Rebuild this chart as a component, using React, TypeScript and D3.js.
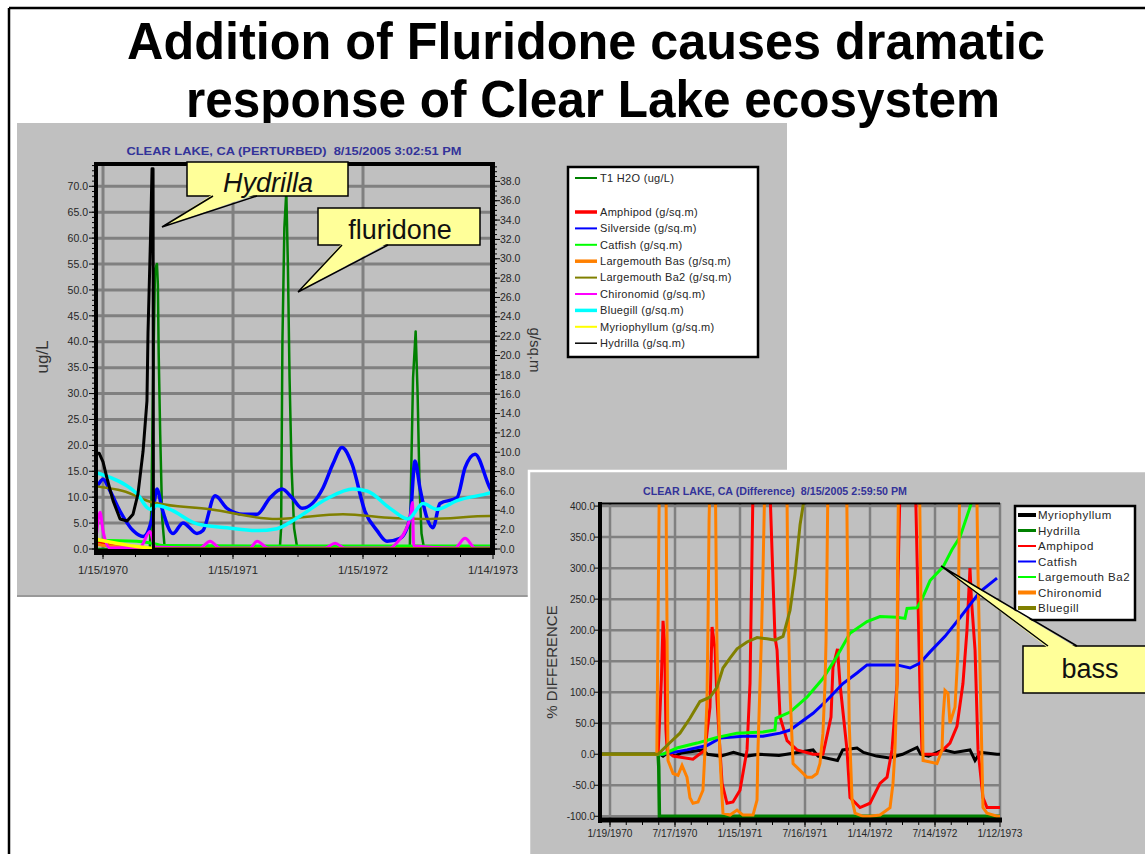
import * as d3 from 'd3';

type Pt = [number, number]; // [decimal year, value]

// ---------- upper chart: CLEAR LAKE (PERTURBED) ----------
const perturbedTicks = [1970.04, 1971.04, 1972.04, 1973.04];
const perturbedTickLabels = ['1/15/1970', '1/15/1971', '1/15/1972', '1/14/1973'];
const ugTicks = [0, 5, 10, 15, 20, 25, 30, 35, 40, 45, 50, 55, 60, 65, 70];
const gsqmTicks = [0, 2, 4, 6, 8, 10, 12, 14, 16, 18, 20, 22, 24, 26, 28, 30, 32, 34, 36, 38];

const t1H2O: Pt[] = [
  [1969.986, 0], [1970.4, 0], [1970.412, 8], [1970.425, 32], [1970.44, 54], [1970.455, 55],
  [1970.462, 51], [1970.468, 38], [1970.48, 22], [1970.495, 6], [1970.515, 0],
  [1971.4, 0], [1971.41, 4], [1971.42, 40], [1971.435, 62], [1971.45, 69], [1971.462, 55],
  [1971.475, 33], [1971.49, 16], [1971.51, 4], [1971.535, 0],
  [1972.4, 0], [1972.41, 14], [1972.425, 33], [1972.445, 42], [1972.46, 30], [1972.475, 12],
  [1972.49, 3], [1972.51, 0], [1973.04, 0],
];
const amphipodP: Pt[] = [[1969.986, 0.9], [1970.05, 0.6], [1970.15, 0.25], [1970.3, 0.05], [1970.45, 0], [1973.04, 0]];
const silversideP: Pt[] = [
  [1969.986, 6.4], [1969.994, 6.5], [1970.04, 7.2], [1970.094, 6.0], [1970.171, 3.9], [1970.271, 1.9],
  [1970.348, 1.3], [1970.417, 3.2], [1970.455, 6.2], [1970.494, 4.2], [1970.578, 1.6], [1970.655, 2.7],
  [1970.763, 1.6], [1970.809, 1.9], [1970.902, 5.5], [1970.994, 4.2], [1971.117, 3.6], [1971.225, 3.6],
  [1971.325, 5.3], [1971.417, 6.2], [1971.494, 5.3], [1971.571, 4.2], [1971.732, 6.3], [1971.809, 8.8],
  [1971.878, 10.5], [1971.955, 8.8], [1972.055, 3.9], [1972.148, 1.9], [1972.225, 0.8], [1972.325, 1.1],
  [1972.402, 3.2], [1972.44, 9.1], [1972.478, 6.3], [1972.532, 3.2], [1972.578, 2.2], [1972.632, 4.7],
  [1972.763, 5.3], [1972.825, 8.4], [1972.902, 9.8], [1973.017, 6.3], [1973.04, 5.8],
];
const catfishP: Pt[] = [[1969.986, 0.9], [1970.3, 0.8], [1970.42, 0.6], [1970.5, 0.35], [1971.5, 0.3], [1973.04, 0.3]];
const bassP: Pt[] = [[1969.986, 0.5], [1970.1, 0.3], [1970.3, 0.1], [1970.5, 0], [1973.04, 0]];
const bass2P: Pt[] = [
  [1969.986, 6.5], [1970.194, 6.0], [1970.425, 4.8], [1970.863, 4.1], [1971.378, 3.1], [1971.886, 3.6],
  [1972.271, 3.2], [1972.555, 3.1], [1973.017, 3.4], [1973.04, 3.4],
];
const chironomidP: Pt[] = [
  [1969.986, 1.0], [1970.017, 3.8], [1970.04, 1.9], [1970.094, 0.1], [1970.325, 0.2], [1970.402, 1.8],
  [1970.44, 0.2], [1970.786, 0.1], [1970.863, 0.8], [1970.94, 0.1], [1971.17, 0.1], [1971.225, 0.8],
  [1971.31, 0.1], [1971.748, 0.1], [1971.825, 0.6], [1971.9, 0.1], [1972.248, 0.1], [1972.31, 0.8],
  [1972.37, 2.0], [1972.41, 3.8], [1972.42, 4.8], [1972.43, 0.3], [1972.748, 0.1], [1972.825, 1.1],
  [1972.902, 0.1], [1973.04, 0.1],
];
const bluegillP: Pt[] = [
  [1969.986, 7.9], [1970.094, 7.4], [1970.302, 5.7], [1970.402, 4.1], [1970.455, 4.5], [1970.555, 4.1],
  [1970.763, 2.6], [1970.994, 2.2], [1971.225, 1.9], [1971.378, 2.1], [1971.532, 3.2], [1971.763, 5.2],
  [1971.963, 6.2], [1972.071, 6.0], [1972.248, 4.2], [1972.386, 3.1], [1972.502, 4.7], [1972.609, 4.1],
  [1972.763, 5.0], [1973.017, 5.8], [1973.04, 5.9],
];
const myriophyllumP: Pt[] = [[1969.986, 1.0], [1970.1, 0.7], [1970.25, 0.35], [1970.42, 0.05], [1970.44, 0], [1973.04, 0]];
const hydrillaP: Pt[] = [
  [1969.986, 9.9], [1970.01, 9.9], [1970.04, 9.0], [1970.071, 7.3], [1970.117, 5.0], [1970.171, 3.1],
  [1970.225, 2.9], [1970.271, 3.6], [1970.309, 5.7], [1970.348, 10.1], [1970.378, 15.3], [1970.386, 22.3],
  [1970.405, 32], [1970.417, 39.3], [1970.425, 39.3], [1970.428, 0], [1973.04, 0],
];

// ---------- lower chart: CLEAR LAKE (Difference) ----------
const diffTicks = [1970.05, 1970.55, 1971.05, 1971.55, 1972.05, 1972.55, 1973.05];
const diffTickLabels = ['1/19/1970', '7/17/1970', '1/15/1971', '7/16/1971', '1/14/1972', '7/14/1972', '1/12/1973'];
const pctTicks = [-100, -50, 0, 50, 100, 150, 200, 250, 300, 350, 400];

const myriophyllumD: Pt[] = [
  [1969.973, 0], [1970.435, 0], [1970.458, -3], [1970.5, 3], [1970.55, -3], [1970.6, 2], [1970.765, 7],
  [1970.8, 0], [1970.9, -3], [1971.0, 3], [1971.1, -3], [1971.2, 0], [1971.35, -2], [1971.612, 7],
  [1971.65, -3], [1971.8, -10], [1971.84, 7], [1971.95, 10], [1972.0, 3], [1972.1, -3], [1972.2, -6],
  [1972.3, 0], [1972.412, 11], [1972.44, 0], [1972.5, -3], [1972.612, 7], [1972.7, 3], [1972.819, 7],
  [1972.858, -10], [1972.9, 3], [1973.027, 0], [1973.05, 0],
];
const hydrillaD: Pt[] = [[1969.973, 0], [1970.42, 0], [1970.425, -20], [1970.43, -100], [1973.05, -100]];
const amphipodD: Pt[] = [
  [1969.973, 0], [1970.42, 0], [1970.445, 120], [1970.458, 215], [1970.47, 180], [1970.48, 40], [1970.49, 5],
  [1970.535, -3], [1970.688, -8], [1970.781, 7], [1970.819, 76], [1970.835, 205], [1970.858, 170],
  [1970.873, 87], [1970.895, 10], [1970.912, -47], [1970.95, -79], [1970.996, -77], [1971.05, -58],
  [1971.104, 7], [1971.127, 114], [1971.142, 320], [1971.15, 430], [1971.28, 430], [1971.304, 280],
  [1971.319, 189], [1971.335, 168], [1971.358, 60], [1971.412, 22], [1971.488, 7], [1971.612, 0],
  [1971.688, 0], [1971.75, 60], [1971.765, 140], [1971.8, 170], [1971.819, 114], [1971.873, 7],
  [1971.896, -70], [1971.973, -86], [1972.05, -79], [1972.127, -47], [1972.181, -37], [1972.219, 7],
  [1972.258, 114], [1972.265, 280], [1972.281, 430], [1972.4, 430], [1972.419, 250], [1972.435, 100],
  [1972.45, 5], [1972.458, 0], [1972.565, 0], [1972.612, 7], [1972.665, 18], [1972.719, 45],
  [1972.765, 114], [1972.796, 200], [1972.819, 300], [1972.83, 250], [1972.858, 168], [1972.881, 7],
  [1972.919, -70], [1972.95, -86], [1973.05, -86],
];
const catfishD: Pt[] = [
  [1969.973, 0], [1970.458, 0], [1970.642, 7], [1970.796, 14], [1970.896, 26], [1971.073, 29],
  [1971.227, 29], [1971.358, 34], [1971.435, 39], [1971.488, 47], [1971.612, 66], [1971.719, 87],
  [1971.842, 114], [1971.95, 131], [1972.027, 144], [1972.258, 144], [1972.358, 139], [1972.435, 147],
  [1972.512, 165], [1972.627, 190], [1972.742, 220], [1972.896, 262], [1973.027, 284],
];
const bass2D: Pt[] = [
  [1969.973, 0], [1970.458, 0], [1970.565, 10], [1970.719, 18], [1970.873, 27], [1971.027, 34],
  [1971.227, 36], [1971.319, 39], [1971.327, 58], [1971.435, 68], [1971.565, 92], [1971.688, 122],
  [1971.796, 158], [1971.896, 195], [1972.027, 214], [1972.127, 222], [1972.258, 221], [1972.319, 219],
  [1972.335, 235], [1972.412, 236], [1972.45, 250], [1972.512, 280], [1972.612, 302], [1972.681, 330],
  [1972.742, 350], [1972.819, 398], [1972.835, 410],
];
const chironomidD: Pt[] = [
  [1969.973, 0], [1970.41, 0], [1970.43, 450], [1970.48, 450], [1970.496, -10], [1970.535, -31],
  [1970.573, -34], [1970.604, -18], [1970.642, -37], [1970.665, -70], [1970.688, -79], [1970.727, -77],
  [1970.765, -58], [1970.781, 7], [1970.796, 87], [1970.804, 211], [1970.812, 377], [1970.82, 450],
  [1970.86, 450], [1970.873, 168], [1970.895, 0], [1970.912, -70], [1970.919, -95], [1970.973, -98],
  [1971.027, -90], [1971.073, -98], [1971.15, -98], [1971.181, -74], [1971.188, 7], [1971.204, 114],
  [1971.215, 189], [1971.227, 297], [1971.242, 450], [1971.41, 450], [1971.419, 250], [1971.435, 100],
  [1971.458, -15], [1971.512, -26], [1971.565, -37], [1971.604, -37], [1971.642, -31], [1971.665, -15],
  [1971.688, 34], [1971.704, 114], [1971.712, 184], [1971.719, 297], [1971.727, 450], [1971.87, 450],
  [1971.881, 200], [1971.89, 50], [1971.912, -74], [1971.935, -95], [1971.996, -100], [1972.05, -100],
  [1972.127, -98], [1972.204, -86], [1972.227, -47], [1972.242, 7], [1972.258, 114], [1972.262, 297],
  [1972.27, 450], [1972.43, 450], [1972.445, 200], [1972.458, -10], [1972.565, -15], [1972.604, 7],
  [1972.612, 60], [1972.627, 103], [1972.65, 98], [1972.665, 50], [1972.704, 76], [1972.719, 135],
  [1972.727, 168], [1972.74, 450], [1972.87, 450], [1972.88, 300], [1972.919, -86], [1972.95, -95],
  [1973.027, -100], [1973.05, -100],
];
const bluegillD: Pt[] = [
  [1969.973, 0], [1970.419, 0], [1970.512, 19], [1970.588, 34], [1970.665, 58], [1970.742, 85],
  [1970.819, 92], [1970.873, 108], [1970.919, 139], [1970.973, 155], [1971.027, 170], [1971.104, 181],
  [1971.181, 188], [1971.258, 186], [1971.319, 184], [1971.381, 190], [1971.435, 232], [1971.473, 290],
  [1971.512, 370], [1971.542, 410],
];

const perturbedSeries = [
  { name: 'T1 H2O (ug/L)', data: t1H2O, ug: true },
  { name: 'Amphipod (g/sq.m)', data: amphipodP, ug: false },
  { name: 'Silverside (g/sq.m)', data: silversideP, ug: false },
  { name: 'Catfish (g/sq.m)', data: catfishP, ug: false },
  { name: 'Largemouth Bas (g/sq.m)', data: bassP, ug: false },
  { name: 'Largemouth Ba2 (g/sq.m)', data: bass2P, ug: false },
  { name: 'Chironomid (g/sq.m)', data: chironomidP, ug: false },
  { name: 'Bluegill (g/sq.m)', data: bluegillP, ug: false },
  { name: 'Myriophyllum (g/sq.m)', data: myriophyllumP, ug: false },
  { name: 'Hydrilla (g/sq.m)', data: hydrillaP, ug: false },
];
const diffSeries = [
  { name: 'Myriophyllum', data: myriophyllumD },
  { name: 'Hydrilla', data: hydrillaD },
  { name: 'Amphipod', data: amphipodD },
  { name: 'Catfish', data: catfishD },
  { name: 'Largemouth Ba2', data: bass2D },
  { name: 'Chironomid', data: chironomidD },
  { name: 'Bluegill', data: bluegillD },
];

// styles (kept apart from the data)
const pStyle = [
  { color: '#008000', w: 2.5, key: 2, smooth: false },
  { color: '#ff0000', w: 3, key: 3.5, smooth: true },
  { color: '#0000ff', w: 3.5, key: 2, smooth: true },
  { color: '#00ff00', w: 3, key: 2, smooth: true },
  { color: '#ff8000', w: 3, key: 3.5, smooth: true },
  { color: '#808000', w: 2.5, key: 2, smooth: true },
  { color: '#ff00ff', w: 3, key: 2, smooth: true },
  { color: '#00ffff', w: 3.5, key: 3.5, smooth: true },
  { color: '#ffff00', w: 3.5, key: 2, smooth: false },
  { color: '#000000', w: 3, key: 1.5, smooth: false },
];
const dStyle = [
  { color: '#000000', w: 3, key: 4 },
  { color: '#008000', w: 3.5, key: 3 },
  { color: '#ff0000', w: 3, key: 2 },
  { color: '#0000ff', w: 3, key: 2 },
  { color: '#00ff00', w: 3, key: 2 },
  { color: '#ff8000', w: 3, key: 4 },
  { color: '#808000', w: 3, key: 4 },
];

const FONT = "'Liberation Sans', Arial, Helvetica, sans-serif";
const GRID = '#808080';
const PANEL = '#c0c0c0';
const NOTE = '#ffff99';
const INK = '#262626';

type CalloutProps = {
  x: number; y: number; w: number; h: number;
  tip: [number, number]; b1: number; b2: number; top: boolean;
  text: string; tx: number; ty: number; italic?: boolean;
};

const Callout = ({ x, y, w, h, tip, b1, b2, top, text, tx, ty, italic }: CalloutProps) => {
  const by = top ? y : y + h;
  const inner = top ? by + 2 : by - 2;
  return (
    <g>
      <rect x={x} y={y} width={w} height={h} fill={NOTE} stroke="#000" strokeWidth={1.5} />
      <polygon points={`${tip[0]},${tip[1]} ${b1},${inner} ${b2},${inner}`} fill={NOTE} />
      <polyline points={`${b1},${by} ${tip[0]},${tip[1]} ${b2},${by}`} fill="none" stroke="#000" strokeWidth={1.5} />
      <text x={tx} y={ty} textAnchor="middle" fontSize={27} fontStyle={italic ? 'italic' : 'normal'} fill="#111" fontFamily={FONT}>
        {text}
      </text>
    </g>
  );
};

export default function App() {
  // upper chart scales
  const xP = d3.scaleLinear().domain([1969.986, 1973.04]).range([96, 493]);
  const yUg = d3.scaleLinear().domain([0, 74.5]).range([549, 163]);
  const yG = d3.scaleLinear().domain([0, 39.9]).range([549, 163]);
  // lower chart scales
  const xD = d3.scaleLinear().domain([1969.973, 1973.05]).range([600, 1000]);
  const yD = d3.scaleLinear().domain([-106, 405]).range([820, 503]);

  const pathP = (data: Pt[], ug: boolean, smooth: boolean) =>
    d3.line<Pt>()
      .x((d) => xP(d[0]))
      .y((d) => (ug ? yUg(d[1]) : yG(d[1])))
      .curve(smooth ? d3.curveMonotoneX : d3.curveLinear)(data) ?? '';
  const pathD = d3.line<Pt>().x((d) => xD(d[0])).y((d) => yD(d[1]));

  const ugMinor = d3.range(0, 74.5, 1);
  const gMinor = d3.range(0, 39.9, 0.5);
  const pMinorX = d3.range(1970.04, 1973.04, 0.25);
  const dMinorX = d3.range(1970.05, 1973.05, 0.125);

  return (
    <svg width={1145} height={854} style={{ position: 'absolute', left: 0, top: 0, background: '#fff' }} fontFamily={FONT}>
      <defs>
        <clipPath id="clipP"><rect x={96} y={163} width={397} height={387} /></clipPath>
        <clipPath id="clipD"><rect x={600} y={503} width={400} height={316} /></clipPath>
      </defs>
      <rect x={0} y={0} width={1145} height={854} fill="#fff" />
      {/* slide frame */}
      <line x1={9} y1={8} x2={1145} y2={8} stroke="#000" strokeWidth={2.5} />
      <line x1={9} y1={8} x2={9} y2={854} stroke="#000" strokeWidth={2.5} />

      <text x={586} y={59} textAnchor="middle" fontSize={52} fontWeight="bold" textLength={918} lengthAdjust="spacingAndGlyphs">
        Addition of Fluridone causes dramatic
      </text>
      <text x={593} y={117} textAnchor="middle" fontSize={52} fontWeight="bold" textLength={814} lengthAdjust="spacingAndGlyphs">
        response of Clear Lake ecosystem
      </text>

      {/* ===== upper panel ===== */}
      <rect x={17} y={123} width={770} height={473} fill={PANEL} />
      <line x1={17} y1={596} x2={787} y2={596} stroke="#999" strokeWidth={2} />
      <text x={294} y={155} textAnchor="middle" fontSize={10} fontWeight="bold" fill="#333399" textLength={335}
        lengthAdjust="spacingAndGlyphs" style={{ whiteSpace: 'pre' }}>
        {'CLEAR LAKE, CA (PERTURBED)  8/15/2005 3:02:51 PM'}
      </text>

      {ugTicks.filter((v) => v > 0).map((v) => (
        <line key={`gh${v}`} x1={96} x2={493} y1={yUg(v)} y2={yUg(v)} stroke={GRID} strokeWidth={3} />
      ))}
      {perturbedTicks.slice(0, 3).map((t) => (
        <line key={`gv${t}`} x1={xP(t)} x2={xP(t)} y1={163} y2={550} stroke={GRID} strokeWidth={3} />
      ))}

      <g clipPath="url(#clipP)">
        {perturbedSeries.map((s, i) => (
          <path key={s.name} d={pathP(s.data, s.ug, pStyle[i].smooth)} fill="none" stroke={pStyle[i].color}
            strokeWidth={pStyle[i].w} strokeLinejoin="round" />
        ))}
      </g>

      {/* frame */}
      <line x1={94} x2={495} y1={164} y2={164} stroke="#000" strokeWidth={4} />
      <line x1={96} x2={96} y1={162} y2={555} stroke="#000" strokeWidth={4} />
      <line x1={492.5} x2={492.5} y1={162} y2={555} stroke="#000" strokeWidth={5} />
      <line x1={94} x2={495} y1={552} y2={552} stroke="#000" strokeWidth={6} />

      {/* left axis */}
      {ugMinor.map((v) => <line key={`um${v}`} x1={92} x2={96} y1={yUg(v)} y2={yUg(v)} stroke="#000" strokeWidth={1} />)}
      {ugTicks.map((v) => (
        <g key={`ut${v}`}>
          <line x1={89} x2={96} y1={yUg(v)} y2={yUg(v)} stroke="#000" strokeWidth={1} />
          <text x={88} y={yUg(v)} dy="0.35em" textAnchor="end" fontSize={10.5} fill={INK}>{v.toFixed(1)}</text>
        </g>
      ))}
      <text transform="translate(48,357) rotate(-90)" textAnchor="middle" fontSize={17} fill="#333">ug/L</text>

      {/* right axis */}
      {gMinor.map((v) => <line key={`gm${v}`} x1={493} x2={497} y1={yG(v)} y2={yG(v)} stroke="#000" strokeWidth={1} />)}
      {gsqmTicks.map((v) => (
        <g key={`gt${v}`}>
          <line x1={493} x2={500} y1={yG(v)} y2={yG(v)} stroke="#000" strokeWidth={1} />
          <text x={500} y={yG(v)} dy="0.35em" fontSize={10.5} fill={INK}>{v.toFixed(1)}</text>
        </g>
      ))}
      <text transform="translate(530,350) rotate(90)" textAnchor="middle" fontSize={15} fill="#333">g/sq.m</text>

      {/* x axis */}
      {pMinorX.map((t) => <line key={`pm${t}`} x1={xP(t)} x2={xP(t)} y1={552} y2={557} stroke="#000" strokeWidth={1} />)}
      {perturbedTicks.map((t, i) => (
        <g key={`pt${t}`}>
          <line x1={xP(t)} x2={xP(t)} y1={552} y2={559} stroke="#000" strokeWidth={1} />
          <text x={xP(t)} y={574} textAnchor="middle" fontSize={10.5} fill={INK} textLength={50}
            lengthAdjust="spacingAndGlyphs">{perturbedTickLabels[i]}</text>
        </g>
      ))}

      {/* upper legend */}
      <rect x={568} y={167} width={190} height={190} fill="#fff" stroke="#000" strokeWidth={2.5} />
      {perturbedSeries.map((s, i) => {
        const y = i === 0 ? 178 : 212 + (i - 1) * 16.4;
        return (
          <g key={`lg${s.name}`}>
            <line x1={575} x2={597} y1={y} y2={y} stroke={pStyle[i].color} strokeWidth={pStyle[i].key} />
            <text x={600} y={y} dy="0.35em" fontSize={11} letterSpacing={0.3} fill={INK}>{s.name}</text>
          </g>
        );
      })}

      {/* ===== lower panel ===== */}
      <rect x={529} y={471} width={640} height={400} fill={PANEL} stroke="#fff" strokeWidth={2.5} />
      <text x={775} y={495} textAnchor="middle" fontSize={10} fontWeight="bold" fill="#333399" textLength={264}
        lengthAdjust="spacingAndGlyphs" style={{ whiteSpace: 'pre' }}>
        {'CLEAR LAKE, CA (Difference)  8/15/2005 2:59:50 PM'}
      </text>

      {pctTicks.map((v) => (
        <line key={`dh${v}`} x1={600} x2={1000} y1={yD(v)} y2={yD(v)} stroke={GRID} strokeWidth={2.5} />
      ))}
      {diffTicks.map((t) => (
        <line key={`dv${t}`} x1={xD(t)} x2={xD(t)} y1={503} y2={820} stroke={GRID} strokeWidth={2.5} />
      ))}

      <g clipPath="url(#clipD)">
        {diffSeries.map((s, i) => (
          <path key={s.name} d={pathD(s.data) ?? ''} fill="none" stroke={dStyle[i].color}
            strokeWidth={dStyle[i].w} strokeLinejoin="miter" />
        ))}
      </g>

      <line x1={598} x2={1000} y1={503.5} y2={503.5} stroke="#000" strokeWidth={2} />
      <line x1={600} x2={600} y1={502} y2={823} stroke="#000" strokeWidth={4} />
      <line x1={598} x2={1002} y1={820} y2={820} stroke="#000" strokeWidth={5} />

      {pctTicks.map((v) => (
        <g key={`pl${v}`}>
          <line x1={594} x2={600} y1={yD(v)} y2={yD(v)} stroke="#000" strokeWidth={1} />
          <text x={595} y={yD(v)} dy="0.35em" textAnchor="end" fontSize={10} fill={INK}>{v.toFixed(1)}</text>
        </g>
      ))}
      <text transform="translate(557,662) rotate(-90)" textAnchor="middle" fontSize={15} fill="#333">% DIFFERENCE</text>

      {dMinorX.map((t) => <line key={`dm${t}`} x1={xD(t)} x2={xD(t)} y1={820} y2={825} stroke="#000" strokeWidth={1} />)}
      {diffTicks.map((t, i) => (
        <g key={`dt${t}`}>
          <line x1={xD(t)} x2={xD(t)} y1={820} y2={827} stroke="#000" strokeWidth={1} />
          <text x={xD(t)} y={837} textAnchor="middle" fontSize={10} fill={INK} textLength={45} lengthAdjust="spacingAndGlyphs">
            {diffTickLabels[i]}
          </text>
        </g>
      ))}

      {/* lower legend */}
      <rect x={1015} y={506} width={120} height={114} fill="#fff" stroke="#000" strokeWidth={2.5} />
      {diffSeries.map((s, i) => {
        const y = 515 + i * 15.5;
        return (
          <g key={`dl${s.name}`}>
            <line x1={1018} x2={1036} y1={y} y2={y} stroke={dStyle[i].color} strokeWidth={dStyle[i].key} />
            <text x={1038} y={y} dy="0.35em" fontSize={11.5} letterSpacing={0.5} fill={INK}>{s.name}</text>
          </g>
        );
      })}

      {/* callouts */}
      <Callout x={187} y={162} w={161} h={34} tip={[162, 227]} b1={213} b2={257} top={false}
        text="Hydrilla" tx={268} ty={192} italic />
      <Callout x={318} y={208} w={162} h={37} tip={[298, 292]} b1={342} b2={388} top={false}
        text="fluridone" tx={400} ty={239} />
      <Callout x={1023} y={646} w={140} h={47} tip={[941, 566]} b1={1048} b2={1077} top
        text="bass" tx={1090} ty={678} />
    </svg>
  );
}
